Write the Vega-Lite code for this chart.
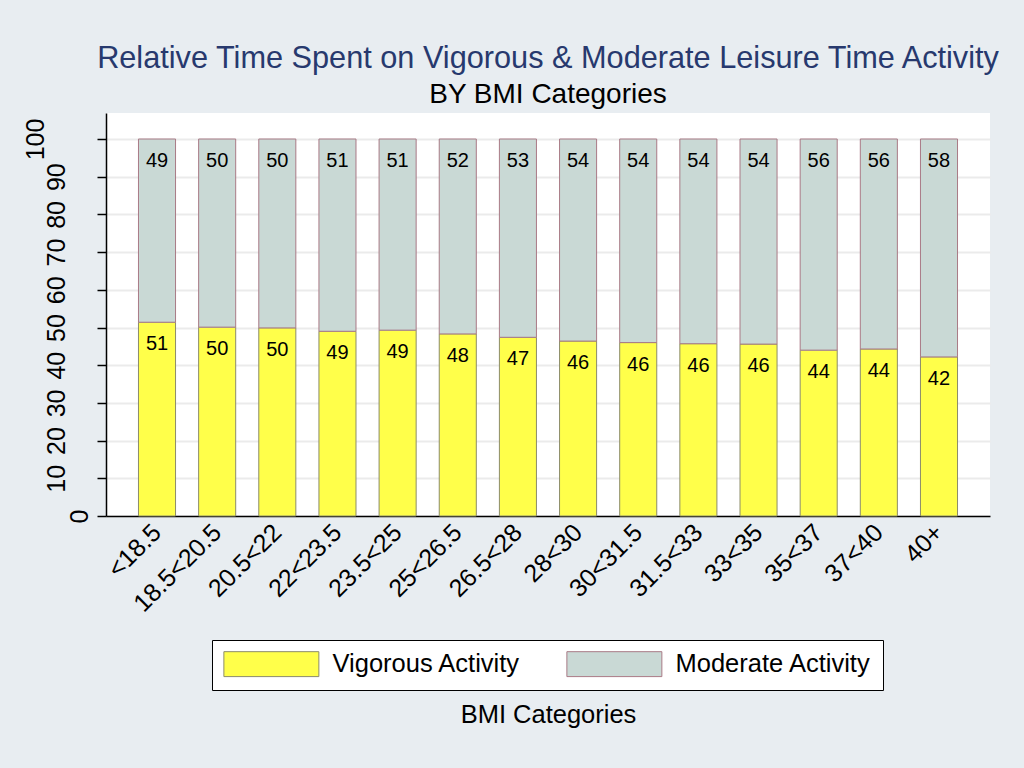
{
  "$schema": "https://vega.github.io/schema/vega-lite/v6.json",
  "autosize": {"type": "none"},
  "padding": {"left": 106, "top": 113, "right": 34, "bottom": 252},
  "width": 884,
  "height": 403,
  "background": "#e8edf1",
  "config": {"view": {"stroke": null, "fill": "white"}, "font": "Liberation Sans"},
  "title": {
    "text": "Relative Time Spent on Vigorous & Moderate Leisure Time Activity",
    "subtitle": "BY BMI Categories",
    "anchor": "middle",
    "color": "#27396e",
    "fontSize": 30.7,
    "fontWeight": "normal",
    "font": "Liberation Sans",
    "subtitleFont": "Liberation Sans",
    "subtitleFontSize": 28,
    "subtitleColor": "black",
    "subtitlePadding": 6,
    "offset": 3
  },
  "data": {
    "values": [
      {"bmi": "<18.5", "activity": "Vigorous Activity", "pct": 51.4},
      {"bmi": "<18.5", "activity": "Moderate Activity", "pct": 48.6},
      {"bmi": "18.5<20.5", "activity": "Vigorous Activity", "pct": 50.1},
      {"bmi": "18.5<20.5", "activity": "Moderate Activity", "pct": 49.9},
      {"bmi": "20.5<22", "activity": "Vigorous Activity", "pct": 49.9},
      {"bmi": "20.5<22", "activity": "Moderate Activity", "pct": 50.1},
      {"bmi": "22<23.5", "activity": "Vigorous Activity", "pct": 49.0},
      {"bmi": "22<23.5", "activity": "Moderate Activity", "pct": 51.0},
      {"bmi": "23.5<25", "activity": "Vigorous Activity", "pct": 49.3},
      {"bmi": "23.5<25", "activity": "Moderate Activity", "pct": 50.7},
      {"bmi": "25<26.5", "activity": "Vigorous Activity", "pct": 48.3},
      {"bmi": "25<26.5", "activity": "Moderate Activity", "pct": 51.7},
      {"bmi": "26.5<28", "activity": "Vigorous Activity", "pct": 47.4},
      {"bmi": "26.5<28", "activity": "Moderate Activity", "pct": 52.6},
      {"bmi": "28<30", "activity": "Vigorous Activity", "pct": 46.4},
      {"bmi": "28<30", "activity": "Moderate Activity", "pct": 53.6},
      {"bmi": "30<31.5", "activity": "Vigorous Activity", "pct": 46.0},
      {"bmi": "30<31.5", "activity": "Moderate Activity", "pct": 54.0},
      {"bmi": "31.5<33", "activity": "Vigorous Activity", "pct": 45.7},
      {"bmi": "31.5<33", "activity": "Moderate Activity", "pct": 54.3},
      {"bmi": "33<35", "activity": "Vigorous Activity", "pct": 45.6},
      {"bmi": "33<35", "activity": "Moderate Activity", "pct": 54.4},
      {"bmi": "35<37", "activity": "Vigorous Activity", "pct": 44.0},
      {"bmi": "35<37", "activity": "Moderate Activity", "pct": 56.0},
      {"bmi": "37<40", "activity": "Vigorous Activity", "pct": 44.3},
      {"bmi": "37<40", "activity": "Moderate Activity", "pct": 55.7},
      {"bmi": "40+", "activity": "Vigorous Activity", "pct": 42.2},
      {"bmi": "40+", "activity": "Moderate Activity", "pct": 57.8}
    ]
  },
  "encoding": {
    "x": {
      "field": "bmi",
      "type": "nominal",
      "sort": null,
      "scale": {"paddingInner": 0.384, "paddingOuter": 0.54},
      "axis": {
        "title": "BMI Categories",
        "titleY": 198,
        "titleBaseline": "middle",
        "titleFontSize": 25.5,
        "titleFontWeight": "normal",
        "titleColor": "black",
        "titleFont": "Liberation Sans",
        "labelAngle": -45,
        "labelAlign": "right",
        "labelBaseline": "middle",
        "labelFontSize": 25,
        "labelColor": "black",
        "labelFont": "Liberation Sans",
        "labelPadding": 12,
        "ticks": false,
        "domainColor": "black",
        "domainWidth": 1.5,
        "grid": false
      }
    },
    "y": {
      "field": "pct",
      "type": "quantitative",
      "stack": "zero",
      "scale": {"domain": [0, 106.9], "nice": false, "zero": true},
      "axis": {
        "title": null,
        "values": [0, 10, 20, 30, 40, 50, 60, 70, 80, 90, 100],
        "labelAngle": 270,
        "labelAlign": "center",
        "labelBaseline": "bottom",
        "labelFontSize": 25,
        "labelColor": "black",
        "labelFont": "Liberation Sans",
        "labelPadding": {"condition": [{"test": "datum.value == 0", "value": 5}, {"test": "datum.value == 100", "value": 49}], "value": 28},
        "tickSize": 9,
        "tickColor": "black",
        "tickWidth": 1.5,
        "domainColor": "black",
        "domainWidth": 1.5,
        "gridColor": "#ebebeb",
        "gridWidth": 2
      }
    },
    "order": {"field": "activity", "sort": "descending"}
  },
  "layer": [
    {
      "mark": {"type": "bar", "strokeWidth": 1, "opacity": 1},
      "encoding": {
        "fill": {
          "field": "activity",
          "type": "nominal",
          "scale": {"domain": ["Vigorous Activity", "Moderate Activity"], "range": ["#ffff4a", "#c9d9d5"]},
          "legend": {
            "title": null,
            "orient": "none",
            "legendX": 106,
            "legendY": 527,
            "direction": "horizontal",
            "symbolType": "M-1,-1.05H7V1.05H-1Z",
            "symbolSize": 564,
            "symbolStrokeWidth": 1,
            "symbolOpacity": 1,
            "labelFontSize": 25.5,
            "labelFont": "Liberation Sans",
            "labelColor": "black",
            "labelOffset": 84,
            "labelLimit": 400,
            "padding": 11,
            "columnPadding": 43,
            "strokeColor": "black",
            "fillColor": "white"
          }
        },
        "stroke": {
          "field": "activity",
          "type": "nominal",
          "scale": {"domain": ["Vigorous Activity", "Moderate Activity"], "range": ["#8c8c6a", "#a97a86"]}
        }
      }
    },
    {
      "mark": {"type": "text", "baseline": "top", "dy": 12, "fontSize": 20, "color": "black", "font": "Liberation Sans"},
      "encoding": {
        "detail": {"field": "activity"},
        "text": {"field": "pct", "type": "quantitative", "format": ".0f"}
      }
    }
  ]
}
